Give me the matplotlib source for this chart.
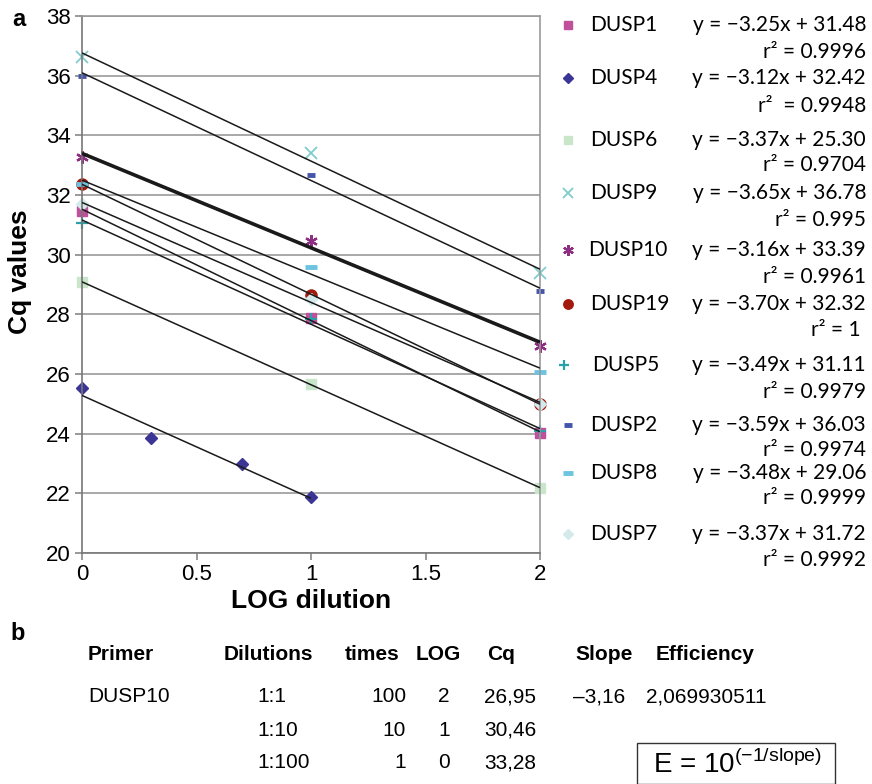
import numpy as np
import matplotlib.pyplot as plt
import matplotlib
matplotlib.rcParams['font.family'] = ['Liberation Sans', 'DejaVu Sans']
matplotlib.rcParams['mathtext.fontset'] = 'custom'
matplotlib.rcParams['mathtext.rm'] = 'Liberation Sans'

# ============================================================
# Données
# ============================================================

log_dil = [0, 1, 2]
log_dil_dusp4 = [0, 0.301, 0.699, 1]

cq_dusp1 = [31.48, 27.88, 24.02]
cq_dusp4 = [25.52, 23.86, 22.97, 21.88]
cq_dusp6 = [29.08, 25.66, 22.18]
cq_dusp9 = [36.62, 33.42, 29.37]
cq_dusp10 = [33.28, 30.46, 26.95]
cq_dusp19 = [32.37, 28.65, 25.0]
cq_dusp5 = [31.07, 27.85, 24.08]
cq_dusp2 = [36.0, 32.68, 28.78]
cq_dusp8 = [32.38, 29.58, 26.08]
cq_dusp7 = [31.7, 28.5, 25.0]

genes = ['DUSP1', 'DUSP4', 'DUSP6', 'DUSP9', 'DUSP10',
         'DUSP19', 'DUSP5', 'DUSP2', 'DUSP8', 'DUSP7']
equations = ['y = \u22123.25x + 31.48', 'y = \u22123.12x + 32.42',
             'y = \u22123.37x + 25.30', 'y = \u22123.65x + 36.78',
             'y = \u22123.16x + 33.39', 'y = \u22123.70x + 32.32',
             'y = \u22123.49x + 31.11', 'y = \u22123.59x + 36.03',
             'y = \u22123.48x + 29.06', 'y = \u22123.37x + 31.72']
r2_labels = ['r\u00b2 = 0.9996', 'r\u00b2  = 0.9948', 'r\u00b2 = 0.9704',
             'r\u00b2 = 0.995', 'r\u00b2 = 0.9961', 'r\u00b2 = 1 ',
             'r\u00b2 = 0.9979', 'r\u00b2 = 0.9974', 'r\u00b2 = 0.9999',
             'r\u00b2 = 0.9992']

# tableau b
tab_header = ['Primer', 'Dilutions', 'times', 'LOG', 'Cq', 'Slope', 'Efficiency']
tab_dilutions = ['1:1', '1:10', '1:100']
tab_times = ['100', '10', '1']
tab_log = ['2', '1', '0']
tab_cq = ['26,95', '30,46', '33,28']
tab_slope = '\u20133,16'
tab_eff = '2,069930511'

# styles des marqueurs
series = [
    (log_dil, cq_dusp1, dict(marker='s', color='#C0509C', ms=7.5)),
    (log_dil_dusp4, cq_dusp4, dict(marker='D', color='#3B3595', ms=6)),
    (log_dil, cq_dusp6, dict(marker='s', color='#C9E6CB', ms=7.5)),
    (log_dil, cq_dusp9, dict(marker='x', color='#80CCCC', ms=8, mew=1.3)),
    (log_dil, cq_dusp10, dict(marker=(6, 2, 0), color='#8E2E82', ms=9, mew=1.6)),
    (log_dil, cq_dusp19, dict(marker='o', color='#A31A0C', ms=8)),
    (log_dil, cq_dusp5, dict(marker='+', color='#2AA0A8', ms=8, mew=1.6)),
    (log_dil, cq_dusp2, dict(marker='_', color='#4455AA', ms=6, mew=3.5)),
    (log_dil, cq_dusp8, dict(marker='_', color='#6CC4E0', ms=8, mew=3.5)),
    (log_dil, cq_dusp7, dict(marker='D', color='#D4EAEA', ms=6)),
]

# ============================================================
# Figure
# ============================================================

fig = plt.figure(figsize=(8.72, 7.84), dpi=100)
ax = fig.add_axes([82 / 872, 1 - 553 / 784, (540 - 82) / 872, (553 - 16) / 784])

for i, (xs, ys, st) in enumerate(series):
    ax.plot(xs, ys, linestyle='none', clip_on=False, zorder=2,
            markeredgecolor=st['color'], markerfacecolor=st['color'],
            marker=st['marker'], markersize=st['ms'],
            markeredgewidth=st.get('mew', 1))
    # droite de tendance (moindres carrés)
    slope, inter = np.polyfit(xs, ys, 1)
    xf = np.array([min(xs), max(xs)])
    lw = 2.6 if genes[i] == 'DUSP10' else 1.1
    ax.plot(xf, slope * xf + inter, color='#1a1a1a', lw=lw, zorder=3,
            solid_capstyle='butt')

ax.set_xlim(0, 2)
ax.set_ylim(20, 38)
ax.set_yticks(range(20, 39, 2))
ax.set_xticks([0, 0.5, 1, 1.5, 2])
ax.set_xticklabels(['0', '0.5', '1', '1.5', '2'])
ax.tick_params(labelsize=16, length=5, color='#888888', width=1.2, pad=3)
ax.grid(axis='y', color='#999999', lw=1.2)
ax.set_axisbelow(True)
for s in ax.spines.values():
    s.set_color('#999999')
    s.set_linewidth(1.2)
ax.spines['left'].set_color('#777777')
ax.spines['bottom'].set_color('#777777')

ax.set_ylabel('Cq values', fontsize=19, fontweight='bold', va='center')
ax.yaxis.set_label_coords((20 - 82) / 458, (553 - 272) / 537)
ax.set_xlabel('LOG dilution', fontsize=19, fontweight='bold', va='center')
ax.xaxis.set_label_coords(0.5, (553 - 601) / 537)

fig.text(12 / 872, 1 - 19 / 784, 'a', fontsize=17, fontweight='bold',
         ha='left', va='center')

# ============================================================
# Légende à droite (équations)
# ============================================================

leg_y = [25, 78, 140, 193, 250, 304, 365, 425, 473, 534]
r2_y = [52, 106, 165, 220, 277, 330, 392, 450, 498, 560]
name_x = [590, 590, 590, 590, 588, 590, 592, 590, 590, 590]
mk_x = [568, 568, 568, 568, 568, 568, 564, 568, 568, 568]
lfont = ['Lato', 'DejaVu Sans']

for i, g in enumerate(genes):
    st = series[i][2]
    fy = 1 - leg_y[i] / 784
    fig.add_artist(plt.Line2D([mk_x[i] / 872], [fy], transform=fig.transFigure,
                              linestyle='none', marker=st['marker'],
                              color=st['color'], markersize=st['ms'] * 0.85,
                              markeredgewidth=st.get('mew', 1)))
    fig.text(name_x[i] / 872, fy, g, fontsize=15, family=lfont,
             ha='left', va='center')
    fig.text(866 / 872, fy, equations[i], fontsize=15, family=lfont,
             ha='right', va='center')
    fig.text(866 / 872, 1 - r2_y[i] / 784, r2_labels[i], fontsize=15,
             family=lfont, ha='right', va='center')

# ============================================================
# Panneau b : tableau
# ============================================================

fig.text(10 / 872, 1 - 633 / 784, 'b', fontsize=17, fontweight='bold',
         ha='left', va='center')

head_x = [88, 224, 345, 416, 487, 575, 656]
head_y = 1 - 655 / 784
for hx, h in zip(head_x, tab_header):
    fig.text(hx / 872, head_y, h, fontsize=15, fontweight='bold',
             ha='left', va='center')

row_y = [697, 730, 763]
fig.text(88 / 872, 1 - row_y[0] / 784, 'DUSP10', fontsize=15,
         ha='left', va='center')
for k in range(3):
    fy = 1 - row_y[k] / 784
    fig.text(257 / 872, fy, tab_dilutions[k], fontsize=15, ha='left', va='center')
    fig.text(406 / 872, fy, tab_times[k], fontsize=15, ha='right', va='center')
    fig.text(444 / 872, fy, tab_log[k], fontsize=15, ha='center', va='center')
    fig.text(484 / 872, fy, tab_cq[k], fontsize=15, ha='left', va='center')
fig.text(573 / 872, 1 - row_y[0] / 784, tab_slope, fontsize=15,
         ha='left', va='center')
fig.text(646 / 872, 1 - row_y[0] / 784, tab_eff, fontsize=15,
         ha='left', va='center')

# encadré de la formule
box = plt.Rectangle((637 / 872, 0.5 / 784), (835 - 637) / 872, (784 - 743) / 784,
                    transform=fig.transFigure, fill=False, ec='#333333', lw=1)
fig.add_artist(box)
fig.text(738 / 872, 1 - 764 / 784, 'E = 10$^{(\u22121/\\mathrm{slope})}$',
         fontsize=20, ha='center', va='center')

fig.savefig('out.png', dpi=100)
